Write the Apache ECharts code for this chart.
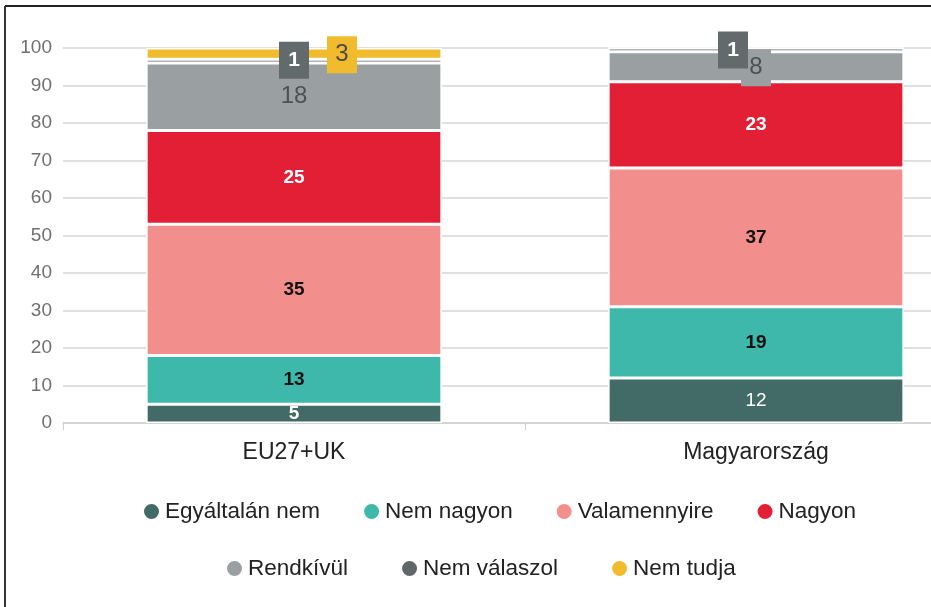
<!DOCTYPE html>
<html>
<head>
<meta charset="utf-8">
<style>
  html, body { margin: 0; padding: 0; background: #fff; }
  #chart { width: 931px; height: 607px; }
</style>
<script src="https://cdn.jsdelivr.net/npm/echarts@6/dist/echarts.min.js"></script>
</head>
<body>
<div id="chart"></div>
<script>
// categories
const categories = ['EU27+UK', 'Magyarország'];
// series values (%)
const egyaltalanNem = [5, 12];
const nemNagyon = [13, 19];
const valamennyire = [35, 37];
const nagyon = [25, 23];
const rendkivul = [18, 8];
const nemValaszol = [1, 1];
const nemTudja = [3, 0];
// y axis ticks
const yTicks = [0, 10, 20, 30, 40, 50, 60, 70, 80, 90, 100];

const FONT = '"Liberation Sans", Arial, sans-serif';

// plain inside label
function inLabel(color, bold) {
  return {
    show: true,
    position: 'inside',
    color: color,
    fontSize: 19,
    fontWeight: bold ? 'bold' : 'normal',
    fontFamily: FONT,
    formatter: p => (p.value ? p.value : '')
  };
}

// boxed label (small values drawn in a tag)
function boxLabel(bg, color, bold, offset) {
  return {
    show: true,
    position: 'inside',
    offset: offset,
    backgroundColor: bg,
    color: color,
    fontSize: bold ? 21 : 24,
    fontWeight: bold ? 'bold' : 'normal',
    fontFamily: FONT,
    width: 30,
    height: 37,
    lineHeight: 37,
    align: 'center',
    verticalAlign: 'middle',
    padding: 0
  };
}

const chart = echarts.init(document.getElementById('chart'));

const base = {
  type: 'bar',
  stack: 'total',
  barWidth: '64%',
  itemStyle: { borderColor: '#fff', borderWidth: 1.5 }
};

const series = [
  { ...base, name: 'Egyáltalán nem', color: '#426b67', label: inLabel('#fff', true),
    // the "12" label is regular weight
    data: egyaltalanNem.map((v, i) => i === 1 ? { value: v, label: { fontWeight: 'normal' } } : v) },
  { ...base, name: 'Nem nagyon', data: nemNagyon, color: '#3db8aa', label: inLabel('#111', true) },
  { ...base, name: 'Valamennyire', data: valamennyire, color: '#f28f8c', label: inLabel('#111', true) },
  { ...base, name: 'Nagyon', data: nagyon, color: '#e31f36', label: inLabel('#fff', true) },
  { ...base, name: 'Rendkívül', color: '#9aa0a2',
    data: [
      { value: rendkivul[0], label: { ...inLabel('#4a5252', false), fontSize: 24 } },
      { value: rendkivul[1], label: boxLabel('#9aa0a2', '#4a5252', false, [0, 1]) }
    ] },
  { ...base, name: 'Nem válaszol', color: '#5f6769',
    data: [
      { value: nemValaszol[0], label: boxLabel('#636a6b', '#fff', true, [0, -1]) },
      { value: nemValaszol[1], label: boxLabel('#636a6b', '#fff', true, [-23, 0]) }
    ] },
  { ...base, name: 'Nem tudja', color: '#f0bc2e',
    data: [
      { value: nemTudja[0], label: boxLabel('#f0bc2e', '#4a4a4a', false, [48, 1]) },
      { value: nemTudja[1], label: { show: false } }
    ] }
];

const legendText = { fontSize: 22.5, color: '#222', fontFamily: FONT };

chart.setOption({
  backgroundColor: '#fff',
  animation: false,
  graphic: [
    { type: 'line', shape: { x1: 5, y1: 6, x2: 931, y2: 6 }, style: { stroke: '#222', lineWidth: 2 } },
    { type: 'line', shape: { x1: 5, y1: 6, x2: 5, y2: 607 }, style: { stroke: '#333', lineWidth: 2 } }
  ],
  legend: [
    {
      data: series.slice(0, 4).map(s => s.name),
      icon: 'circle',
      itemWidth: 17,
      itemHeight: 17,
      itemGap: 42,
      itemTextGap: 5,
      left: 137,
      top: 495,
      textStyle: legendText
    },
    {
      data: series.slice(4).map(s => s.name),
      icon: 'circle',
      itemWidth: 17,
      itemHeight: 17,
      itemGap: 52,
      itemTextGap: 5,
      left: 220,
      top: 552,
      textStyle: legendText
    }
  ],
  grid: {
    left: 63,
    width: 924,
    top: 48,
    bottom: 184,
    containLabel: false,
    outerBoundsMode: 'none'
  },
  xAxis: {
    type: 'category',
    data: categories,
    axisLine: { lineStyle: { color: '#d0d0d0', width: 1.5 } },
    axisTick: { show: true, length: 7, lineStyle: { color: '#d0d0d0' } },
    axisLabel: { fontSize: 23, color: '#222', margin: 18, fontFamily: FONT }
  },
  yAxis: {
    type: 'value',
    min: yTicks[0],
    max: yTicks[yTicks.length - 1],
    interval: 10,
    axisLine: { show: false },
    axisTick: { show: false },
    axisLabel: { fontSize: 19, color: '#707070', margin: 11, fontFamily: FONT },
    splitLine: { lineStyle: { color: '#d6d6d6', width: 1.5 } }
  },
  series: series
});
</script>
</body>
</html>
